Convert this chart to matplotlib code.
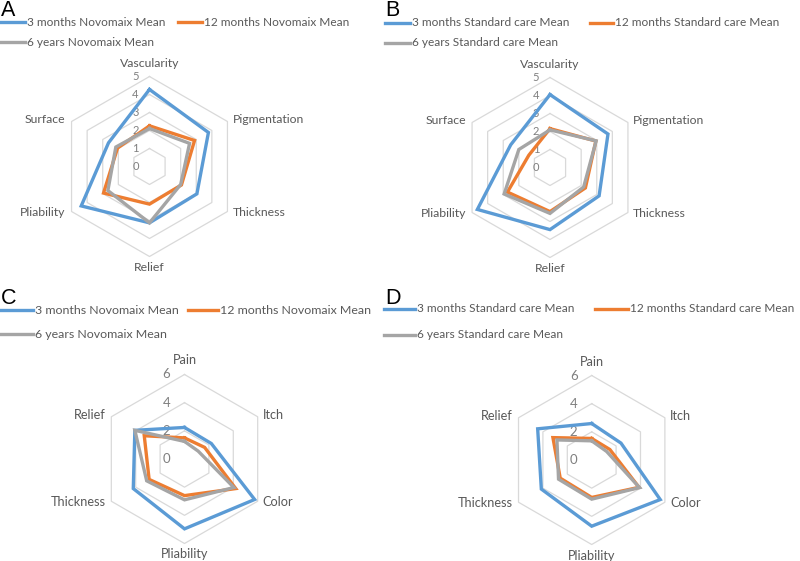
import numpy as np
import matplotlib
matplotlib.use("Agg")
import matplotlib.pyplot as plt
from matplotlib.lines import Line2D

# ---------------- data ----------------
cats_scar = ['Vascularity', 'Pigmentation', 'Thickness', 'Relief', 'Pliability', 'Surface']
cats_posas = ['Pain', 'Itch', 'Color', 'Pliability', 'Thickness', 'Relief']

a_3m = [4.28, 3.78, 3.04, 3.13, 4.38, 2.63]
a_12m = [2.26, 2.89, 2.05, 2.09, 2.95, 2.05]
a_6y = [2.11, 2.57, 2.00, 3.13, 2.67, 2.16]

b_3m = [4.05, 3.72, 3.15, 3.45, 4.66, 2.52]
b_12m = [2.16, 2.94, 2.27, 2.45, 2.73, 1.36]
b_6y = [2.09, 2.96, 2.16, 2.55, 2.94, 2.00]

c_3m = [2.24, 2.20, 5.75, 4.96, 4.20, 4.07]
c_12m = [1.50, 1.65, 4.20, 2.60, 2.90, 3.30]
c_6y = [1.25, 1.12, 4.05, 2.90, 3.10, 4.07]

d_3m = [2.59, 2.40, 5.62, 4.70, 4.13, 4.43]
d_12m = [1.53, 1.49, 3.88, 2.66, 2.58, 3.18]
d_6y = [1.36, 1.22, 3.92, 2.78, 2.72, 2.85]

labels_nov = ['3 months Novomaix Mean', '12 months Novomaix Mean', '6 years Novomaix Mean']
labels_std = ['3 months Standard care Mean', '12 months Standard care Mean', '6 years Standard care Mean']

ticks_ab = [0, 1, 2, 3, 4, 5]
ticks_cd = [0, 2, 4, 6]

colors = ['#5B9BD5', '#ED7D31', '#A5A5A5']

# ---------------- figure ----------------
W, H = 800, 561
fig = plt.figure(figsize=(W / 100, H / 100), dpi=100)
fig.patch.set_facecolor('white')
FONT = ['Lato', 'DejaVu Sans']
TXT = '#595959'


def fx(px):
    return px / W


def fy(py):
    return 1 - py / H


def radar(cx, cy, R, cats, series, ticks, fs_cat, fs_tick, tick_dx):
    ax = fig.add_axes([fx(cx - R), fy(cy + R), 2 * R / W, 2 * R / H], projection='polar')
    ax.set_theta_zero_location('N')
    ax.set_theta_direction(-1)
    rmax = ticks[-1]
    ax.set_ylim(0, rmax)
    ax.grid(False)
    ax.spines['polar'].set_visible(False)
    ax.set_xticks([])
    ax.set_yticks([])
    ax.patch.set_alpha(0)
    n = len(cats)
    th = np.arange(n) * 2 * np.pi / n
    thc = np.append(th, th[0])
    for t in ticks[1:]:
        ax.plot(thc, [t] * (n + 1), color='#D9D9D9', lw=0.9, zorder=1, clip_on=False)
    lines = []
    for vals, col in zip(series, colors):
        v = np.append(vals, vals[0])
        ln, = ax.plot(thc, v, color=col, lw=2.4, zorder=3, clip_on=False,
                      solid_joinstyle='miter')
        lines.append(ln)
    # radial tick labels
    for t in ticks:
        ax.annotate(str(t), (0, t), xytext=(tick_dx, 0), textcoords='offset pixels',
                    ha='center', va='center', fontsize=fs_tick, color='#7F7F7F',
                    family=FONT, zorder=2, annotation_clip=False)
    # category labels
    for ang, c in zip(th, cats):
        s, co = np.sin(ang), np.cos(ang)
        if abs(s) < 0.1:
            ha = 'center'
            va = 'bottom' if co > 0 else 'top'
            off = (0, 8 if co > 0 else -5)
        else:
            ha = 'left' if s > 0 else 'right'
            va = 'center'
            off = (5 if s > 0 else -6, 2 if co > 0 else -1)
        ax.annotate(c, (ang, rmax), xytext=off, textcoords='offset pixels',
                    ha=ha, va=va, fontsize=fs_cat, color=TXT, family=FONT,
                    annotation_clip=False)
    return lines


def legend(entries, fs):
    # entries: (x0, x1, y, color, label)
    for x0, x1, y, col, lab in entries:
        fig.add_artist(Line2D([fx(x0), fx(x1)], [fy(y), fy(y)], color=col, lw=2.4,
                              transform=fig.transFigure))
        fig.text(fx(x1 + 2), fy(y), lab, ha='left', va='center', fontsize=fs,
                 color=TXT, family=FONT)


# Panel A
radar(149.5, 166.5, 90, cats_scar, [a_3m, a_12m, a_6y], ticks_ab, 8.8, 8, -14)
legend([(0, 25, 22, colors[0], labels_nov[0]),
        (178, 202, 22, colors[1], labels_nov[1]),
        (0, 25, 42, colors[2], labels_nov[2])], 8.6)
fig.text(fx(0.5), fy(16.5), 'A', ha='left', va='baseline', fontsize=15.5, family='Liberation Sans')

# Panel B
radar(550, 167.5, 90, cats_scar, [b_3m, b_12m, b_6y], ticks_ab, 8.8, 8, -14)
legend([(385, 410, 22.5, colors[0], labels_std[0]),
        (590, 613, 22.5, colors[1], labels_std[1]),
        (385, 410, 43, colors[2], labels_std[2])], 8.6)
fig.text(fx(385), fy(16.5), 'B', ha='left', va='baseline', fontsize=15.5, family='Liberation Sans')

# Panel C
radar(184.5, 459, 84.5, cats_posas, [c_3m, c_12m, c_6y], ticks_cd, 9.2, 9.5, -18)
legend([(0, 33, 310, colors[0], labels_nov[0]),
        (188, 218, 310, colors[1], labels_nov[1]),
        (0, 33, 334, colors[2], labels_nov[2])], 8.9)
fig.text(fx(0.5), fy(304), 'C', ha='left', va='baseline', fontsize=15.5, family='Liberation Sans')

# Panel D
radar(591.7, 460, 84.5, cats_posas, [d_3m, d_12m, d_6y], ticks_cd, 9.2, 9.5, -18)
legend([(384, 415, 309, colors[0], labels_std[0]),
        (595, 628, 309, colors[1], labels_std[1]),
        (384, 415, 335, colors[2], labels_std[2])], 8.6)
fig.text(fx(385), fy(304), 'D', ha='left', va='baseline', fontsize=15.5, family='Liberation Sans')

fig.savefig('out.png', dpi=100, facecolor='white')
